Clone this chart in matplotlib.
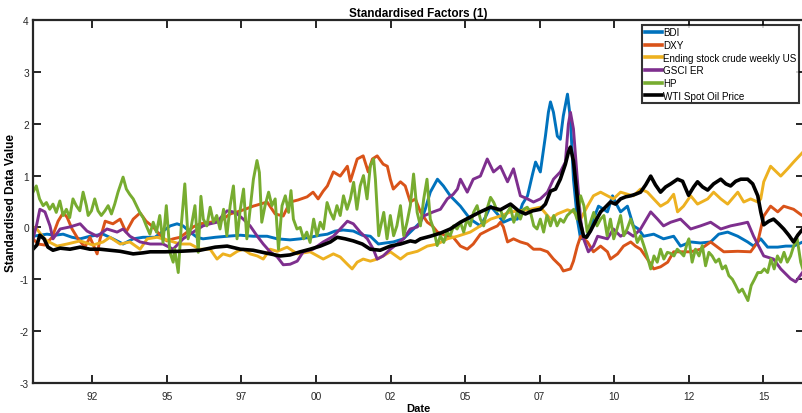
import matplotlib
matplotlib.use("Agg")
import matplotlib.pyplot as plt

# ---------------- data (decimal year, standardised value) ----------------
bdi = [(1990.51, -0.17), (1990.74, -0.15), (1990.98, -0.13), (1991.25, -0.15), (1991.52, -0.13),
       (1991.82, -0.19), (1992.09, -0.22), (1992.42, -0.17), (1992.86, -0.13), (1993.19, -0.22),
       (1993.53, -0.32), (1993.87, -0.22), (1994.20, -0.19), (1994.60, -0.19), (1994.87, -0.07),
       (1995.11, 0.03), (1995.34, 0.07), (1995.54, 0.03), (1995.78, -0.09), (1996.01, -0.19),
       (1996.21, -0.22), (1996.62, -0.19), (1997.02, -0.17), (1997.46, -0.15), (1997.89, -0.17),
       (1998.36, -0.17), (1998.70, -0.22), (1999.13, -0.24), (1999.47, -0.22), (1999.80, -0.19),
       (2000.14, -0.15), (2000.38, -0.13), (2000.64, -0.07), (2000.91, -0.05), (2001.25, -0.07),
       (2001.55, -0.15), (2001.82, -0.17), (2002.09, -0.32), (2002.32, -0.30), (2002.59, -0.28),
       (2002.93, -0.22), (2003.16, -0.09), (2003.50, 0.10), (2003.66, 0.35), (2003.83, 0.68),
       (2004.07, 0.93), (2004.27, 0.80), (2004.50, 0.61), (2004.84, 0.41), (2005.17, 0.16),
       (2005.51, 0.03), (2005.68, 0.20), (2005.85, 0.41), (2006.08, 0.26), (2006.28, 0.10),
       (2006.52, 0.16), (2006.75, 0.16), (2006.92, 0.45), (2007.09, 0.61), (2007.26, 1.03),
       (2007.36, 1.26), (2007.52, 1.07), (2007.69, 1.76), (2007.79, 2.22), (2007.86, 2.42),
       (2007.96, 2.22), (2008.09, 1.76), (2008.19, 1.70), (2008.29, 2.15), (2008.43, 2.57),
       (2008.53, 2.09), (2008.63, 0.93), (2008.76, 0.16), (2008.87, -0.22), (2009.03, -0.19),
       (2009.20, -0.07), (2009.30, 0.16), (2009.47, 0.41), (2009.64, 0.35), (2009.77, 0.30),
       (2009.94, 0.61), (2010.07, 0.45), (2010.21, 0.30), (2010.44, 0.41), (2010.64, 0.03),
       (2010.81, -0.03), (2010.98, -0.17), (2011.32, -0.13), (2011.65, -0.22), (2011.99, -0.17),
       (2012.22, -0.36), (2012.56, -0.28), (2012.89, -0.30), (2013.23, -0.28), (2013.50, -0.13),
       (2013.80, -0.09), (2014.14, -0.17), (2014.47, -0.28), (2014.67, -0.36), (2014.91, -0.22),
       (2015.14, -0.38), (2015.48, -0.38), (2015.75, -0.36), (2016.01, -0.36), (2016.32, -0.28)]

dxy = [(1990.51, -0.22), (1990.68, -0.32), (1990.91, -0.34), (1991.15, -0.19), (1991.35, 0.12),
       (1991.52, 0.28), (1991.65, 0.20), (1991.82, -0.03), (1992.02, -0.22), (1992.25, -0.38),
       (1992.42, -0.19), (1992.66, -0.51), (1992.76, -0.22), (1992.93, 0.12), (1993.19, 0.07),
       (1993.43, 0.16), (1993.63, -0.09), (1993.87, 0.16), (1994.10, 0.28), (1994.30, 0.12),
       (1994.54, 0.01), (1994.77, -0.15), (1995.00, -0.26), (1995.21, -0.22), (1995.44, -0.19),
       (1995.68, -0.09), (1995.88, 0.01), (1996.11, 0.07), (1996.45, 0.10), (1996.78, 0.12),
       (1997.12, 0.26), (1997.36, 0.30), (1997.62, 0.35), (1997.89, 0.41), (1998.13, 0.45),
       (1998.36, 0.49), (1998.63, 0.26), (1998.90, 0.22), (1999.13, 0.49), (1999.40, 0.53),
       (1999.70, 0.59), (1999.90, 0.68), (2000.07, 0.55), (2000.24, 0.70), (2000.38, 0.80),
       (2000.58, 1.07), (2000.81, 0.99), (2001.05, 1.18), (2001.15, 0.89), (2001.38, 1.32),
       (2001.58, 1.38), (2001.75, 1.07), (2001.89, 1.32), (2002.05, 1.38), (2002.25, 1.22),
       (2002.39, 1.18), (2002.49, 0.93), (2002.59, 0.74), (2002.83, 0.88), (2002.99, 0.80),
       (2003.16, 0.49), (2003.33, 0.55), (2003.50, 0.30), (2003.73, 0.10), (2003.90, 0.03),
       (2004.07, -0.09), (2004.40, -0.17), (2004.60, -0.19), (2004.84, -0.36), (2005.07, -0.42),
       (2005.27, -0.32), (2005.51, -0.13), (2005.85, -0.03), (2006.08, 0.03), (2006.18, 0.10),
       (2006.28, 0.01), (2006.42, -0.28), (2006.62, -0.22), (2006.85, -0.28), (2007.09, -0.32),
       (2007.29, -0.42), (2007.52, -0.42), (2007.76, -0.47), (2007.96, -0.61), (2008.19, -0.74),
       (2008.29, -0.84), (2008.53, -0.80), (2008.63, -0.65), (2008.76, -0.36), (2008.87, -0.17),
       (2009.10, -0.28), (2009.30, -0.47), (2009.54, -0.36), (2009.77, -0.47), (2009.87, -0.61),
       (2010.11, -0.51), (2010.31, -0.36), (2010.55, -0.28), (2010.71, -0.36), (2010.88, -0.42),
       (2011.11, -0.61), (2011.32, -0.80), (2011.55, -0.76), (2011.79, -0.67), (2011.99, -0.47),
       (2012.22, -0.47), (2012.56, -0.47), (2012.89, -0.42), (2013.23, -0.28), (2013.67, -0.47),
       (2014.14, -0.46), (2014.57, -0.47), (2014.81, -0.28), (2015.01, 0.22), (2015.24, 0.41),
       (2015.48, 0.30), (2015.68, 0.41), (2016.01, 0.35), (2016.32, 0.22)]

stock = [(1990.51, 0.01), (1990.64, -0.03), (1990.85, -0.19), (1990.98, -0.26), (1991.32, -0.36),
         (1991.65, -0.32), (1992.09, -0.26), (1992.52, -0.34), (1992.86, -0.28), (1993.09, -0.19),
         (1993.43, -0.32), (1993.76, -0.28), (1994.10, -0.42), (1994.34, -0.22), (1994.67, -0.19),
         (1995.11, -0.26), (1995.44, -0.32), (1995.78, -0.32), (1996.11, -0.42), (1996.45, -0.42),
         (1996.68, -0.61), (1996.88, -0.51), (1997.12, -0.55), (1997.36, -0.46), (1997.56, -0.42),
         (1997.79, -0.51), (1998.03, -0.55), (1998.23, -0.61), (1998.46, -0.42), (1998.70, -0.46),
         (1999.03, -0.38), (1999.37, -0.51), (1999.80, -0.47), (2000.24, -0.61), (2000.58, -0.51),
         (2000.81, -0.57), (2001.05, -0.71), (2001.21, -0.80), (2001.38, -0.67), (2001.58, -0.61),
         (2001.82, -0.65), (2002.05, -0.61), (2002.25, -0.55), (2002.49, -0.47), (2002.83, -0.61),
         (2003.06, -0.51), (2003.40, -0.46), (2003.73, -0.36), (2004.07, -0.32), (2004.40, -0.22),
         (2004.74, -0.17), (2005.17, -0.09), (2005.51, 0.03), (2005.85, 0.16), (2006.18, 0.22),
         (2006.52, 0.30), (2006.85, 0.32), (2007.19, 0.35), (2007.52, 0.39), (2007.86, 0.16),
         (2008.09, 0.26), (2008.43, 0.34), (2008.63, 0.30), (2008.87, 0.16), (2009.10, 0.41),
         (2009.30, 0.61), (2009.54, 0.68), (2009.77, 0.61), (2009.97, 0.55), (2010.21, 0.68),
         (2010.44, 0.64), (2010.64, 0.61), (2010.88, 0.74), (2011.11, 0.68), (2011.32, 0.55),
         (2011.55, 0.41), (2011.79, 0.49), (2011.99, 0.64), (2012.12, 0.30), (2012.32, 0.41),
         (2012.56, 0.61), (2012.79, 0.45), (2013.13, 0.55), (2013.33, 0.68), (2013.57, 0.55),
         (2013.80, 0.45), (2014.14, 0.68), (2014.34, 0.49), (2014.57, 0.55), (2014.81, 0.49),
         (2014.91, 0.55), (2015.01, 0.88), (2015.24, 1.18), (2015.58, 0.99), (2015.81, 1.13),
         (2016.01, 1.26), (2016.32, 1.45)]

gsci = [(1990.51, -0.22), (1990.64, 0.07), (1990.74, 0.35), (1990.91, 0.30), (1991.08, 0.03),
        (1991.18, -0.22), (1991.42, -0.03), (1991.75, 0.01), (1992.09, 0.07), (1992.32, -0.07),
        (1992.66, -0.17), (1992.99, -0.03), (1993.33, -0.09), (1993.53, -0.03), (1993.76, -0.17),
        (1994.10, -0.28), (1994.44, -0.32), (1994.87, -0.32), (1995.21, -0.42), (1995.54, -0.22),
        (1995.88, -0.09), (1996.21, 0.03), (1996.45, 0.07), (1996.68, 0.10), (1996.88, 0.24),
        (1997.02, 0.32), (1997.22, 0.30), (1997.36, 0.26), (1997.56, 0.16), (1997.79, 0.03),
        (1998.03, -0.17), (1998.23, -0.32), (1998.46, -0.47), (1998.70, -0.57), (1998.90, -0.72),
        (1999.13, -0.71), (1999.37, -0.65), (1999.57, -0.47), (1999.90, -0.42), (2000.24, -0.28),
        (2000.58, -0.17), (2000.81, -0.03), (2001.05, 0.12), (2001.25, 0.07), (2001.48, -0.09),
        (2001.72, -0.22), (2001.92, -0.42), (2002.05, -0.61), (2002.25, -0.55), (2002.49, -0.42),
        (2002.72, -0.32), (2002.93, -0.22), (2003.16, -0.03), (2003.40, 0.01), (2003.60, 0.22),
        (2003.93, 0.30), (2004.17, 0.35), (2004.40, 0.55), (2004.60, 0.64), (2004.74, 0.74),
        (2004.84, 0.93), (2005.07, 0.68), (2005.27, 0.93), (2005.51, 0.99), (2005.74, 1.32),
        (2005.95, 1.07), (2006.18, 1.18), (2006.42, 0.88), (2006.62, 1.13), (2006.85, 0.61),
        (2007.09, 0.55), (2007.29, 0.49), (2007.52, 0.55), (2007.76, 0.68), (2007.96, 0.93),
        (2008.19, 1.07), (2008.36, 1.26), (2008.46, 1.99), (2008.53, 2.22), (2008.63, 1.90),
        (2008.76, 0.93), (2008.87, 0.16), (2008.97, -0.22), (2009.13, -0.47), (2009.30, -0.36),
        (2009.44, -0.17), (2009.77, -0.22), (2009.97, -0.03), (2010.21, -0.17), (2010.44, -0.09),
        (2010.64, -0.17), (2010.88, -0.03), (2011.22, 0.30), (2011.45, 0.16), (2011.65, 0.03),
        (2011.89, 0.10), (2012.22, 0.16), (2012.56, -0.03), (2012.89, 0.03), (2013.23, 0.10),
        (2013.57, -0.03), (2013.90, 0.03), (2014.24, 0.07), (2014.47, 0.10), (2014.67, -0.17),
        (2015.01, -0.55), (2015.34, -0.61), (2015.58, -0.80), (2015.91, -0.99), (2016.08, -1.05),
        (2016.32, -0.86)]

hp = [(1990.51, 0.68), (1990.62, 0.80), (1990.73, 0.55), (1990.85, 0.42), (1990.96, 0.48),
      (1991.07, 0.35), (1991.18, 0.45), (1991.29, 0.29), (1991.41, 0.51), (1991.52, 0.23),
      (1991.63, 0.35), (1991.74, 0.19), (1991.85, 0.55), (1991.96, 0.42), (1992.08, 0.32),
      (1992.19, 0.68), (1992.30, 0.42), (1992.36, 0.23), (1992.47, 0.32), (1992.58, 0.55),
      (1992.69, 0.32), (1992.80, 0.23), (1992.92, 0.32), (1993.03, 0.42), (1993.14, 0.26),
      (1993.25, 0.45), (1993.36, 0.68), (1993.53, 0.97), (1993.64, 0.74), (1993.75, 0.64),
      (1993.87, 0.55), (1993.98, 0.42), (1994.09, 0.29), (1994.20, 0.19), (1994.31, 0.03),
      (1994.43, -0.13), (1994.54, 0.10), (1994.65, -0.09), (1994.76, 0.23), (1994.87, -0.29),
      (1994.98, 0.42), (1995.10, -0.48), (1995.21, -0.67), (1995.26, -0.42), (1995.38, -0.87),
      (1995.49, 0.10), (1995.60, 0.84), (1995.71, -0.22), (1995.82, 0.03), (1995.94, 0.42),
      (1996.05, -0.48), (1996.14, 0.60), (1996.22, 0.16), (1996.34, 0.03), (1996.45, 0.39),
      (1996.56, 0.10), (1996.67, 0.23), (1996.78, -0.03), (1996.90, 0.35), (1997.01, -0.16),
      (1997.12, 0.42), (1997.23, 0.80), (1997.35, -0.22), (1997.46, 0.35), (1997.57, 0.74),
      (1997.68, -0.22), (1997.79, 0.35), (1997.90, 0.93), (1998.02, 1.29), (1998.10, 1.06),
      (1998.18, 0.10), (1998.29, 0.42), (1998.41, 0.68), (1998.52, 0.42), (1998.63, 0.55),
      (1998.74, -0.42), (1998.86, 0.42), (1998.97, 0.61), (1999.08, 0.29), (1999.16, 0.71),
      (1999.24, 0.16), (1999.36, -0.03), (1999.47, 0.00), (1999.58, -0.22), (1999.69, -0.09),
      (1999.80, -0.29), (1999.92, 0.16), (2000.03, -0.16), (2000.14, 0.10), (2000.25, -0.03),
      (2000.37, 0.48), (2000.48, 0.29), (2000.59, 0.16), (2000.70, 0.42), (2000.81, 0.23),
      (2000.92, 0.61), (2001.04, 0.35), (2001.15, 0.55), (2001.26, 0.87), (2001.37, 0.35),
      (2001.48, 0.80), (2001.59, 1.00), (2001.71, 0.55), (2001.82, 1.19), (2001.93, 1.32),
      (2001.99, 0.93), (2002.10, -0.16), (2002.27, 0.29), (2002.38, -0.22), (2002.49, 0.23),
      (2002.60, -0.16), (2002.71, 0.03), (2002.83, 0.42), (2002.94, -0.16), (2003.05, 0.10),
      (2003.16, 0.42), (2003.27, 1.03), (2003.39, 0.29), (2003.50, 0.03), (2003.61, 0.55),
      (2003.72, 0.93), (2003.83, 0.16), (2003.94, -0.03), (2004.06, -0.35), (2004.17, -0.16),
      (2004.28, -0.29), (2004.39, -0.09), (2004.50, -0.16), (2004.61, 0.03), (2004.73, -0.03),
      (2004.84, 0.10), (2004.95, -0.09), (2005.06, 0.16), (2005.17, 0.03), (2005.28, 0.29),
      (2005.40, 0.42), (2005.51, 0.16), (2005.62, 0.03), (2005.73, 0.35), (2005.85, 0.58),
      (2005.96, 0.48), (2006.07, 0.32), (2006.18, 0.35), (2006.29, 0.16), (2006.41, 0.29),
      (2006.52, 0.39), (2006.63, 0.10), (2006.74, 0.29), (2006.85, 0.16), (2006.96, 0.35),
      (2007.08, 0.39), (2007.19, 0.29), (2007.30, 0.03), (2007.41, -0.03), (2007.52, 0.16),
      (2007.63, -0.09), (2007.74, 0.23), (2007.86, 0.03), (2007.97, 0.23), (2008.08, 0.03),
      (2008.19, 0.16), (2008.30, 0.10), (2008.42, 0.23), (2008.53, 0.29), (2008.64, 0.35),
      (2008.75, 0.16), (2008.87, 0.61), (2008.98, 0.42), (2009.09, -0.09), (2009.20, 0.10),
      (2009.31, 0.29), (2009.42, 0.03), (2009.54, 0.16), (2009.65, 0.23), (2009.76, -0.16),
      (2009.87, 0.16), (2009.98, -0.22), (2010.09, -0.03), (2010.21, 0.23), (2010.32, -0.16),
      (2010.43, -0.03), (2010.55, 0.16), (2010.66, -0.03), (2010.77, -0.29), (2010.88, -0.16),
      (2010.99, -0.35), (2011.10, -0.55), (2011.22, -0.80), (2011.33, -0.55), (2011.44, -0.67),
      (2011.55, -0.42), (2011.66, -0.61), (2011.78, -0.48), (2011.89, -0.50), (2012.00, -0.55),
      (2012.11, -0.42), (2012.22, -0.48), (2012.33, -0.55), (2012.45, -0.29), (2012.50, -0.22),
      (2012.61, -0.67), (2012.72, -0.42), (2012.84, -0.55), (2012.95, -0.35), (2013.06, -0.74),
      (2013.17, -0.48), (2013.28, -0.55), (2013.40, -0.67), (2013.51, -0.61), (2013.62, -0.80),
      (2013.73, -0.74), (2013.84, -0.93), (2013.96, -1.00), (2014.07, -1.12), (2014.18, -1.25),
      (2014.29, -1.19), (2014.40, -1.32), (2014.48, -1.41), (2014.59, -1.12), (2014.70, -1.00),
      (2014.81, -0.87), (2014.92, -0.87), (2015.03, -0.80), (2015.14, -0.87), (2015.25, -0.61),
      (2015.36, -0.80), (2015.47, -0.55), (2015.58, -0.67), (2015.69, -0.48), (2015.80, -0.67),
      (2015.91, -0.55), (2016.02, -0.35), (2016.13, -0.22), (2016.25, -0.67), (2016.32, -0.80)]

wti = [(1990.51, -0.42), (1990.64, -0.34), (1990.74, -0.15), (1990.88, -0.22), (1991.01, -0.38),
       (1991.18, -0.44), (1991.42, -0.40), (1991.75, -0.42), (1992.09, -0.38), (1992.42, -0.42),
       (1992.76, -0.42), (1993.09, -0.44), (1993.43, -0.46), (1993.87, -0.51), (1994.20, -0.49),
       (1994.44, -0.47), (1994.94, -0.47), (1995.44, -0.46), (1996.11, -0.44), (1996.62, -0.38),
       (1997.02, -0.36), (1997.46, -0.42), (1997.89, -0.44), (1998.29, -0.49), (1998.80, -0.55),
       (1999.13, -0.53), (1999.47, -0.47), (1999.80, -0.42), (2000.14, -0.36), (2000.48, -0.28),
       (2000.71, -0.19), (2000.98, -0.22), (2001.25, -0.26), (2001.55, -0.32), (2001.82, -0.42),
       (2002.15, -0.44), (2002.49, -0.36), (2002.83, -0.32), (2003.16, -0.26), (2003.33, -0.28),
       (2003.50, -0.22), (2003.83, -0.17), (2004.17, -0.11), (2004.50, -0.03), (2004.84, 0.10),
       (2005.17, 0.20), (2005.51, 0.30), (2005.85, 0.39), (2006.18, 0.34), (2006.52, 0.45),
       (2006.79, 0.32), (2007.02, 0.26), (2007.26, 0.32), (2007.52, 0.35), (2007.69, 0.45),
       (2007.86, 0.70), (2008.03, 0.74), (2008.19, 0.93), (2008.36, 1.22), (2008.46, 1.45),
       (2008.53, 1.55), (2008.63, 1.28), (2008.73, 0.74), (2008.83, 0.16), (2008.97, -0.17),
       (2009.07, -0.19), (2009.20, -0.07), (2009.37, 0.12), (2009.54, 0.30), (2009.70, 0.39),
       (2009.87, 0.49), (2010.04, 0.45), (2010.21, 0.55), (2010.38, 0.59), (2010.55, 0.61),
       (2010.71, 0.64), (2010.88, 0.68), (2011.05, 0.82), (2011.22, 0.99), (2011.38, 0.82),
       (2011.55, 0.68), (2011.72, 0.78), (2011.89, 0.84), (2012.12, 0.93), (2012.29, 0.89),
       (2012.49, 0.62), (2012.66, 0.78), (2012.79, 0.88), (2012.96, 0.78), (2013.13, 0.72),
       (2013.33, 0.84), (2013.57, 0.93), (2013.74, 0.84), (2013.90, 0.80), (2014.07, 0.89),
       (2014.24, 0.93), (2014.47, 0.93), (2014.64, 0.84), (2014.81, 0.61), (2014.91, 0.30),
       (2015.01, 0.05), (2015.18, 0.12), (2015.34, 0.16), (2015.51, 0.07), (2015.68, -0.03),
       (2015.85, -0.15), (2016.01, -0.28), (2016.15, -0.15), (2016.32, -0.03)]

series_names = ["BDI", "DXY", "Ending stock crude weekly US", "GSCI ER", "HP", "WTI Spot Oil Price"]
series_data = [bdi, dxy, stock, gsci, hp, wti]
series_colors = ["#0072BD", "#D95319", "#EDB120", "#7E2F8E", "#77AC30", "#000000"]
series_widths = [2.1, 2.1, 2.1, 2.1, 2.1, 2.6]

tick_years = [1992.5, 1995.0, 1997.5, 2000.0, 2002.5, 2005.0, 2007.5, 2010.0, 2012.5, 2015.0]
tick_labels = ["92", "95", "97", "00", "02", "05", "07", "10", "12", "15"]
y_ticks = [-3, -2, -1, 0, 1, 2, 3, 4]
x_range = (1990.51, 2016.36)

# ---------------- figure ----------------
plt.rcParams["font.family"] = ["Liberation Sans", "DejaVu Sans"]
plt.rcParams["axes.unicode_minus"] = False
W, H = 802, 414
fig = plt.figure(figsize=(W / 100, H / 100), dpi=100)
ax = fig.add_axes([33 / W, 30 / H, 771 / W, 363 / H])

for name, data, c, lw in zip(series_names, series_data, series_colors, series_widths):
    t = [p[0] for p in data]
    v = [p[1] for p in data]
    ax.plot(t, v, color=c, lw=lw, label=name, solid_joinstyle="round")

ax.set_xlim(*x_range)
ax.set_ylim(-3, 4)
ax.set_xticks(tick_years)
ax.set_xticklabels(tick_labels)
ax.set_yticks(y_ticks)

tc = "#262626"
for s in ax.spines.values():
    s.set_linewidth(1.6)
    s.set_color(tc)
ax.tick_params(direction="in", length=6, width=1.4, colors=tc, labelsize=7.3,
               top=True, right=True)
ax.tick_params(axis="x", pad=6)
ax.tick_params(axis="y", pad=3)

ax.set_title("Standardised Factors (1)", fontsize=8.5, fontweight="bold", pad=3, color="black")
ax.set_xlabel("Date", fontsize=8, fontweight="bold", labelpad=1)
ax.set_ylabel("Standardised Data Value", fontsize=8.5, fontweight="bold", labelpad=2)

leg = ax.legend(loc="upper right", bbox_to_anchor=(799 / W, 1 - 26 / H),
                bbox_transform=fig.transFigure, fontsize=7.1, frameon=True, fancybox=False,
                borderpad=0.25, labelspacing=0.27, handlelength=1.7, handletextpad=0.15,
                borderaxespad=0)
leg.get_frame().set_edgecolor("black")
leg.get_frame().set_linewidth(1.5)
for line in leg.get_lines():
    line.set_linewidth(2.6)

fig.savefig("out.png", dpi=100)
